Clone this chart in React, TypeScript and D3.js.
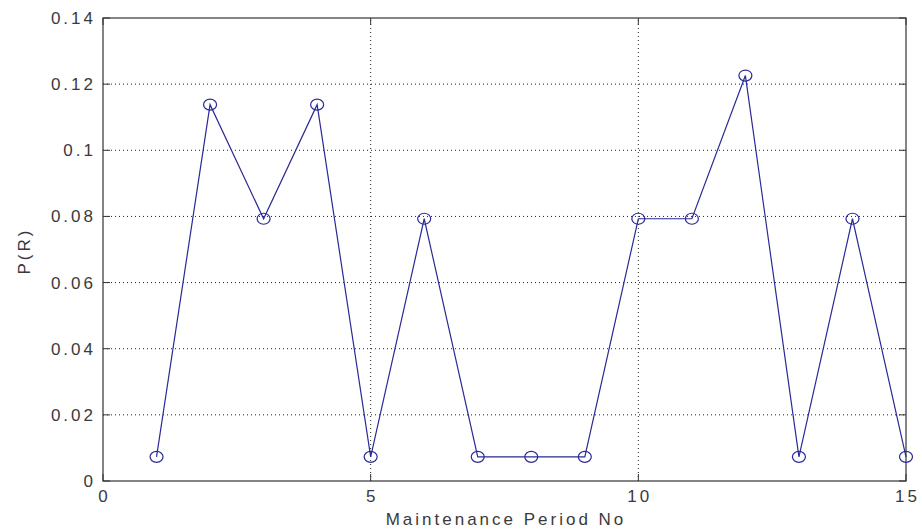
import { useEffect, useRef } from 'react';
import * as d3 from 'd3';

const periods = [1, 2, 3, 4, 5, 6, 7, 8, 9, 10, 11, 12, 13, 14, 15];
const probR = [0.0073, 0.1138, 0.0793, 0.1138, 0.0073, 0.0793, 0.0073, 0.0073, 0.0073, 0.0793, 0.0793, 0.1226, 0.0073, 0.0793, 0.0073];
const xTicks = [0, 5, 10, 15];
const yTicks = [0, 0.02, 0.04, 0.06, 0.08, 0.1, 0.12, 0.14];
const yTickLabels = ['0', '0.02', '0.04', '0.06', '0.08', '0.1', '0.12', '0.14'];

const W = 922;
const H = 529;
const M = { left: 103, right: 16, top: 18, bottom: 48 };
const LS = 3; // wide letter spacing like the old matlab render

export default function App() {
  const svgRef = useRef<SVGSVGElement>(null);

  useEffect(() => {
    if (!svgRef.current) return;
    const svg = d3.select(svgRef.current);
    svg.selectAll('*').remove();

    const x = d3.scaleLinear().domain([0, 15]).range([M.left, W - M.right]);
    const y = d3.scaleLinear().domain([0, 0.14]).range([H - M.bottom, M.top]);
    const [x0, x1] = x.range();
    const [y0, y1] = y.range();

    svg.append('rect').attr('width', W).attr('height', H).attr('fill', '#fff');

    // dotted grid
    const grid = svg.append('g').attr('stroke', '#222').attr('stroke-width', 1).attr('stroke-dasharray', '1,3');
    xTicks.filter((t) => t > 0 && t < 15).forEach((t) => {
      grid.append('line').attr('x1', x(t)).attr('x2', x(t)).attr('y1', y0).attr('y2', y1);
    });
    yTicks.filter((t) => t > 0 && t < 0.14).forEach((t) => {
      grid.append('line').attr('x1', x0).attr('x2', x1).attr('y1', y(t)).attr('y2', y(t));
    });

    // box
    svg.append('rect')
      .attr('x', x0).attr('y', y1)
      .attr('width', x1 - x0).attr('height', y0 - y1)
      .attr('fill', 'none').attr('stroke', '#333').attr('stroke-width', 1.2);

    // tick marks (inward, all sides)
    const tk = svg.append('g').attr('stroke', '#333').attr('stroke-width', 1);
    xTicks.forEach((t) => {
      tk.append('line').attr('x1', x(t)).attr('x2', x(t)).attr('y1', y0).attr('y2', y0 - 7);
      tk.append('line').attr('x1', x(t)).attr('x2', x(t)).attr('y1', y1).attr('y2', y1 + 7);
    });
    yTicks.forEach((t) => {
      tk.append('line').attr('x1', x0).attr('x2', x0 + 7).attr('y1', y(t)).attr('y2', y(t));
      tk.append('line').attr('x1', x1).attr('x2', x1 - 7).attr('y1', y(t)).attr('y2', y(t));
    });

    const font = 'Liberation Sans, Arial, sans-serif';
    const txt = (sel: d3.Selection<any, any, any, any>) =>
      sel.style('font-family', font).style('font-size', '17px')
        .style('letter-spacing', `${LS}px`).style('fill', '#3a3a3a');

    svg.append('g').selectAll('text').data(xTicks).join('text')
      .attr('x', (d) => x(d) + LS / 2).attr('y', y0 + 21)
      .attr('text-anchor', 'middle')
      .call(txt)
      .text((d) => String(d));

    svg.append('g').selectAll('text').data(yTicks).join('text')
      .attr('x', x0 - 10 + LS).attr('y', (d) => y(d) + 6)
      .attr('text-anchor', 'end')
      .call(txt)
      .text((d, i) => yTickLabels[i]);

    svg.append('text')
      .attr('x', (x0 + x1) / 2 + LS / 2).attr('y', H - 4)
      .attr('text-anchor', 'middle')
      .call(txt)
      .text('Maintenance Period No');

    svg.append('text')
      .attr('transform', `translate(30, ${(y0 + y1) / 2 + LS / 2}) rotate(-90)`)
      .attr('text-anchor', 'middle')
      .call(txt)
      .text('P(R)');

    const pts = periods.map((p, i) => [p, probR[i]] as [number, number]);
    const line = d3.line<[number, number]>().x((d) => x(d[0])).y((d) => y(d[1]));

    svg.append('path')
      .attr('d', line(pts))
      .attr('fill', 'none').attr('stroke', '#2a2a96').attr('stroke-width', 1.2);

    svg.append('g').selectAll('ellipse').data(pts).join('ellipse')
      .attr('cx', (d) => x(d[0])).attr('cy', (d) => y(d[1]))
      .attr('rx', 6.5).attr('ry', 5.5)
      .attr('fill', 'none').attr('stroke', '#2a2a96').attr('stroke-width', 1.2);
  }, []);

  return (
    <svg
      ref={svgRef}
      width={W}
      height={H}
      style={{ position: 'absolute', left: 0, top: 0 }}
    />
  );
}
